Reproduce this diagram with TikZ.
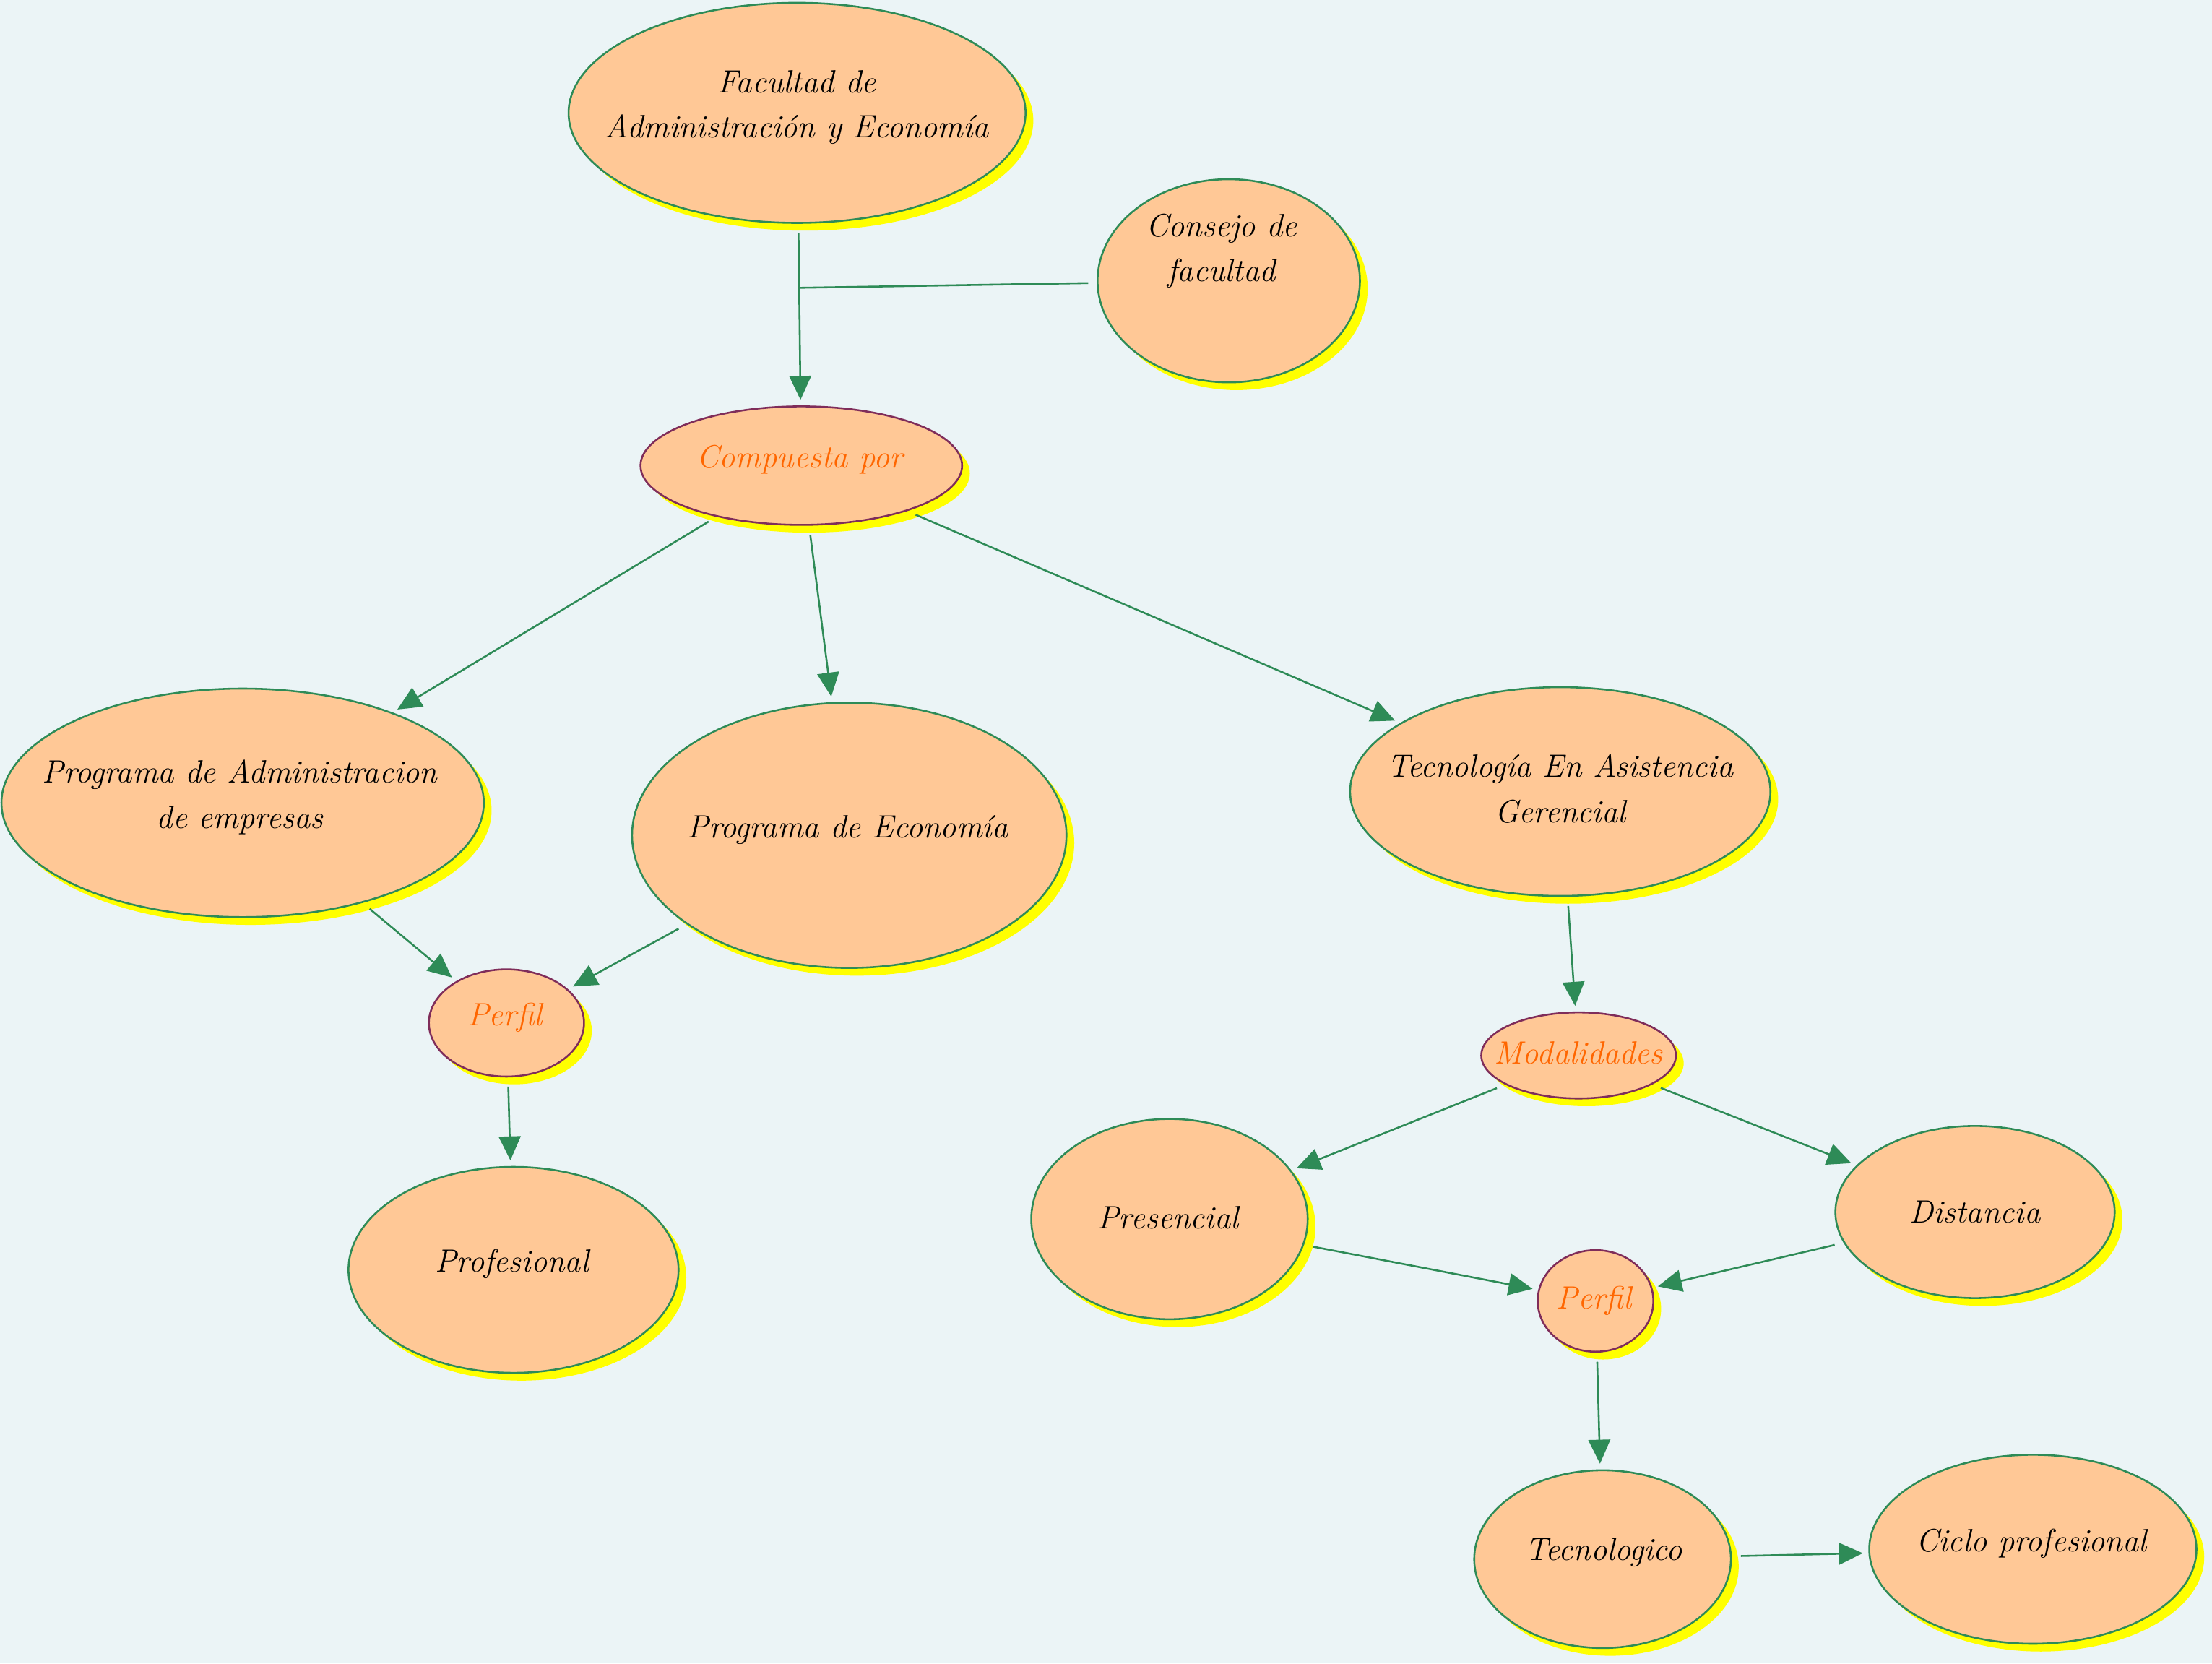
\documentclass[tikz,border=0pt]{standalone}
\usepackage{fontspec}
\usetikzlibrary{shapes.geometric, arrows.meta, shadows}
\definecolor{bg}{HTML}{EBF4F6}
\definecolor{peach}{HTML}{FFC896}
\definecolor{gborder}{HTML}{2E8B57}
\definecolor{purp}{HTML}{7F2D5A}
\definecolor{orng}{HTML}{FF6600}
\definecolor{shad}{HTML}{FFFF00}
\tikzset{
 bub/.style={ellipse, draw=gborder, fill=peach, line width=0.75pt, inner sep=0pt,
   general shadow={fill=shad, shadow xshift=#1, shadow yshift=-#1}},
 bub/.default=0.11cm,
 subbub/.style={bub=#1, draw=purp},
 subbub/.default=0.11cm,
 txt/.style={font=\fontsize{13}{18.2}\selectfont\itshape, align=center, text=black, inner sep=0pt},
 otxt/.style={txt, text=orng},
 arr/.style={draw=gborder, line width=0.75pt, -{Triangle[length=0.34cm,width=0.31cm]}, shorten <=0.13cm, shorten >=0.08cm},
 ln/.style={draw=gborder, line width=0.75pt}
}
\begin{document}
\begin{tikzpicture}[x=0.02cm, y=-0.02cm]
\fill[bg] (0,0) rectangle (1568,1179);
\useasboundingbox (0,0) rectangle (1568,1179);

% ellipses
\node[bub, minimum width=6.48cm, minimum height=3.12cm] (fac) at (565,80) {};
\node[bub, minimum width=3.72cm, minimum height=2.88cm] (cons) at (871,199) {};
\node[subbub, minimum width=4.56cm, minimum height=1.68cm] (comp) at (568,330) {};
\node[bub, minimum width=6.84cm, minimum height=3.24cm] (admin) at (172,569) {};
\node[bub, minimum width=6.16cm, minimum height=3.76cm] (econ) at (602,592) {};
\node[bub, minimum width=5.96cm, minimum height=2.96cm] (tec) at (1106,561) {};
\node[subbub, minimum width=2.20cm, minimum height=1.52cm] (perfA) at (359,725) {};
\node[bub, minimum width=4.68cm, minimum height=2.92cm] (prof) at (364,900) {};
\node[subbub, minimum width=2.76cm, minimum height=1.22cm] (modal) at (1119,748) {};
\node[bub, minimum width=3.92cm, minimum height=2.84cm] (pres) at (829,864) {};
\node[bub, minimum width=3.96cm, minimum height=2.44cm] (dist) at (1400,859) {};
\node[subbub, minimum width=1.64cm, minimum height=1.44cm] (perfB) at (1131,922) {};
\node[bub, minimum width=3.64cm, minimum height=2.52cm] (tecn) at (1136,1105) {};
\node[bub, minimum width=4.64cm, minimum height=2.68cm] (ciclo) at (1441,1098) {};

% texts
\node[txt] (facT) at (565,76) {Facultad de\\Administración y Economía};
\node[txt] (consT) at (866,178) {Consejo de\\facultad};
\node[otxt] (compT) at (567,326) {Compuesta por};
\node[txt] (adminT) at (170,565) {Programa de Administracion\\de empresas};
\node[txt] (econT) at (601,588) {Programa de Economía};
\node[txt] (tecT) at (1106,559) {Tecnología En Asistencia\\Gerencial};
\node[otxt] (perfAT) at (358,721) {Perfil};
\node[txt] (profT) at (363,896) {Profesional};
\node[otxt] (modalT) at (1119,746) {Modalidades};
\node[txt] (presT) at (828,863) {Presencial};
\node[txt] (distT) at (1400,859) {Distancia};
\node[otxt] (perfBT) at (1130,922) {Perfil};
\node[txt] (tecnT) at (1137,1100) {Tecnologico};
\node[txt] (cicloT) at (1440,1094) {Ciclo profesional};

% connectors
\coordinate (j) at (566,204);
\draw[arr] (fac) -- (comp);
\draw[ln, shorten <=0.12cm] (cons) -- (j);
\draw[arr] (comp) -- (admin);
\draw[arr] (comp) -- (econ);
\draw[arr] (comp) -- (tec);
\draw[arr] (admin) -- (perfA);
\draw[arr] (econ) -- (perfA);
\draw[arr] (perfA) -- (prof);
\draw[arr] (tec) -- (modal);
\draw[arr] (modal) -- (pres);
\draw[arr] (modal) -- (dist);
\draw[arr] (pres) -- (perfB);
\draw[arr] (dist) -- (perfB);
\draw[arr] (perfB) -- (tecn);
\draw[arr] (tecn) -- (ciclo);
\end{tikzpicture}
\end{document}
